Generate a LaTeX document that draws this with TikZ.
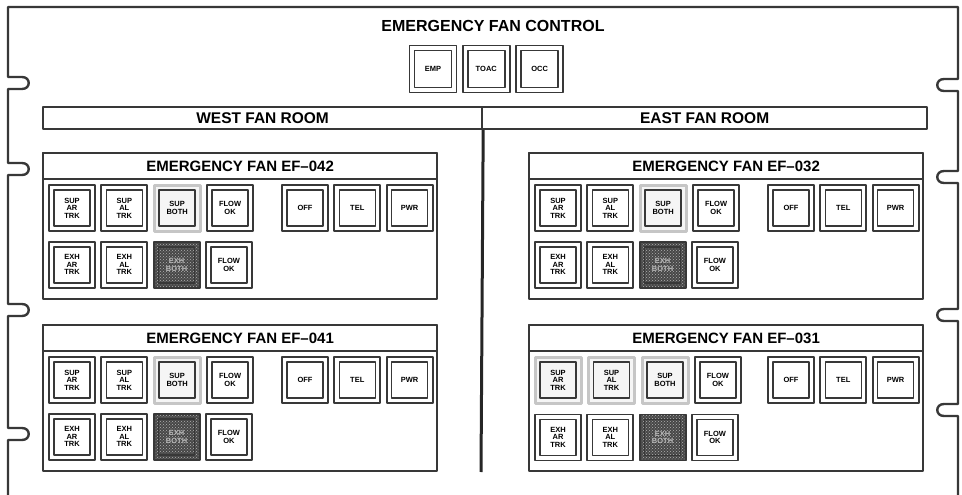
\documentclass[tikz,border=0pt]{standalone}
\usepackage{fontspec}
\setmainfont{Liberation Sans}
\usepackage{tikz}
\usetikzlibrary{positioning,patterns}
\colorlet{ink}{black!78}

\begin{document}
\begin{tikzpicture}[x=1pt, y=-1pt, node distance=9pt and 4.5pt, line join=round, every node/.style={font=\bfseries}]
\tikzset{frame/.style={draw=ink, line width=2.4pt}}
\tikzset{bar/.style={draw=ink, line width=2.2pt, minimum height=22pt, inner sep=0pt, font=\bfseries\fontsize{15.5}{15.5}\selectfont}}
\tikzset{panel/.style={draw=ink, line width=2.4pt, minimum width=394pt, minimum height=146pt, inner sep=0pt}}
\tikzset{strip/.style={draw=ink, line width=2.2pt, minimum width=394pt, minimum height=26pt, inner sep=0pt, font=\bfseries\fontsize{15}{15}\selectfont}}
\tikzset{lamp/.style={draw=ink, line width=1.8pt, minimum width=46pt, minimum height=46pt, inner sep=0pt, align=center, font=\bfseries\fontsize{7.5}{7.5}\selectfont,
  path picture={\draw[ink, line width=1.5pt] ([shift={(5pt,5pt)}]path picture bounding box.south west) rectangle ([shift={(-5pt,-5pt)}]path picture bounding box.north east);}}}
\tikzset{lit/.style={lamp, draw=gray!45, line width=3pt, fill=gray!8}}
\tikzset{dark/.style={lamp, preaction={fill=black!72}, pattern=crosshatch dots, pattern color=gray!60, text=gray!55}}
\useasboundingbox (0,0) rectangle (962,495);
\draw[frame] (8,495) \foreach \y in {434,310,169,83} {-- (8,\y+6) -- (22,\y+6) .. controls (31,\y+6) and (31,\y-6) .. (22,\y-6) -- (8,\y-6)} -- (8,7) -- (958,7)
  \foreach \y in {85,177,315,410} {-- (958,\y-6) -- (944,\y-6) .. controls (935,\y-6) and (935,\y+6) .. (944,\y+6) -- (958,\y+6)} -- (958,495);
\node (title) at (493,26) {\fontsize{16}{16}\selectfont EMERGENCY FAN CONTROL};
\node[lamp, minimum width=47pt, minimum height=47pt] (emp) at (433,69) {EMP};
\node[lamp, minimum width=47pt, minimum height=47pt, right=of emp] (toac) {TOAC};
\node[lamp, minimum width=47pt, minimum height=47pt, right=of toac] (occ) {OCC};
\node[bar, minimum width=439pt, anchor=north west] (west) at (42,106) {WEST FAN ROOM};
\node[bar, minimum width=445pt, anchor=north west] (east) at (481,106) {EAST FAN ROOM};
\coordinate (divend) at (481,472);
\draw[frame, line width=3pt, draw=black!85] (west.south east) -- (divend);
\foreach \x/\y/\n/\s in {42/152/042/lamp, 42/324/041/lamp, 528/152/032/lamp, 528/324/031/lit} {
  \node[panel, anchor=north west] (ef\n) at (\x,\y) {};
  \node[strip, anchor=north west] (t\n) at (\x,\y) {EMERGENCY FAN EF--\n};
  \node[\s] (sar\n) at (\x+30,\y+56) {SUP\\AR\\TRK};
  \node[\s, right=of sar\n] (sal\n) {SUP\\AL\\TRK};
  \node[lit, right=of sal\n] (sb\n) {SUP\\BOTH};
  \node[lamp, right=of sb\n] (sf\n) {FLOW\\OK};
  \node[lamp, below=of sar\n] (xar\n) {EXH\\AR\\TRK};
  \node[lamp, right=of xar\n] (xal\n) {EXH\\AL\\TRK};
  \node[dark, right=of xal\n] (xb\n) {EXH\\BOTH};
  \node[lamp, right=of xb\n] (xf\n) {FLOW\\OK};
  \node[lamp] (off\n) at (\x+263,\y+56) {OFF};
  \node[lamp, right=of off\n] (tel\n) {TEL};
  \node[lamp, right=of tel\n] (pwr\n) {PWR};
}
\end{tikzpicture}
\end{document}
